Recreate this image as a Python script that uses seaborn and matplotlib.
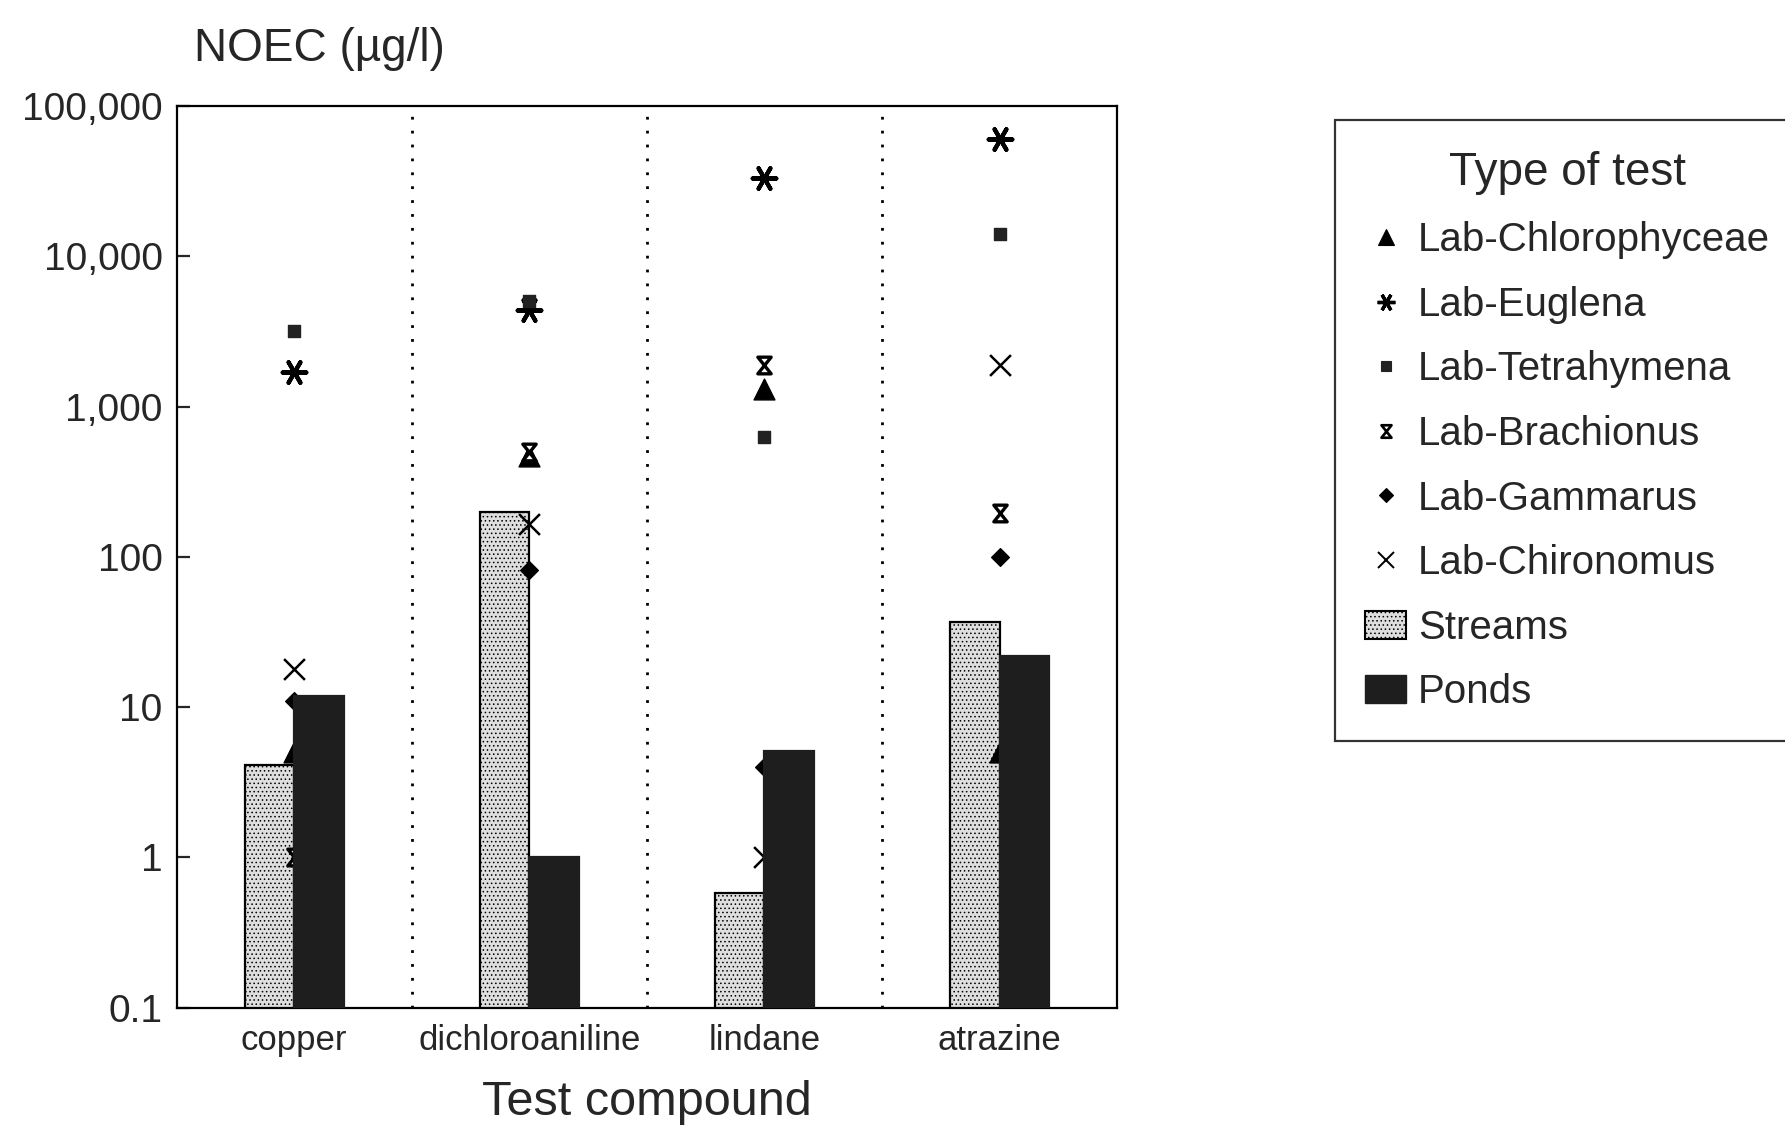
import numpy as np
import pandas as pd
import matplotlib
matplotlib.use("Agg")
import matplotlib.pyplot as plt
import seaborn as sns
from matplotlib.path import Path
from matplotlib.lines import Line2D
from matplotlib.patches import Patch
from matplotlib.ticker import NullLocator

# ---------------- data ----------------
compounds = ["copper", "dichloroaniline", "lindane", "atrazine"]
streams = [4.1, 198, 0.58, 37]
ponds = [11.8, 1.0, 5.1, 22]
lab_chlorophyceae = [5, 470, 1300, 5]
lab_euglena = [1700, 4400, 33000, 60000]
lab_tetrahymena = [3200, 5000, 630, 14000]
lab_brachionus = [1, 500, 1900, 195]
lab_gammarus = [11, 82, 4, 100]
lab_chironomus = [18, 165, 1, 1900]
y_ticks = [0.1, 1, 10, 100, 1000, 10000, 100000]
y_tick_labels = ["0.1", "1", "10", "100", "1,000", "10,000", "100,000"]

sns.set_style("ticks")
plt.rcParams["font.family"] = ["Liberation Sans", "DejaVu Sans"]
plt.rcParams["hatch.linewidth"] = 0.6

fig = plt.figure(figsize=(17.85, 11.36), dpi=100)
ax = fig.add_axes([0.0989, 0.113, 0.527, 0.7937])
ax.set_yscale("log")

bars = pd.DataFrame({
    "compound": compounds * 2,
    "value": streams + ponds,
    "type": ["Streams"] * len(compounds) + ["Ponds"] * len(compounds),
})
stream_color = "#dedede"
pond_color = "#1e1e1e"
sns.barplot(data=bars, x="compound", y="value", hue="type", order=compounds,
            hue_order=["Streams", "Ponds"],
            palette={"Streams": stream_color, "Ponds": pond_color},
            width=0.42, dodge=True, errorbar=None, legend=False,
            edgecolor="black", linewidth=1.6, ax=ax)
for p in ax.containers[0]:
    p.set_zorder(2)
    p.set_hatch("....")
for p in ax.containers[1]:
    p.set_zorder(4)
    p.set_edgecolor(pond_color)

hourglass = Path([(-0.8, 1), (0.8, 1), (-0.8, -1), (0.8, -1), (-0.8, 1)],
                 [Path.MOVETO, Path.LINETO, Path.LINETO, Path.LINETO, Path.CLOSEPOLY])
asterisk = (6, 2, 90)

species = [
    ("Lab-Chlorophyceae", lab_chlorophyceae, "^", 15, "black", "black", 1.0),
    ("Lab-Euglena", lab_euglena, asterisk, 17, "black", "black", 3.0),
    ("Lab-Tetrahymena", lab_tetrahymena, "s", 9, "#222222", "#222222", 1.0),
    ("Lab-Brachionus", lab_brachionus, hourglass, 12, "white", "black", 2.4),
    ("Lab-Gammarus", lab_gammarus, "D", 9, "black", "black", 1.0),
    ("Lab-Chironomus", lab_chironomus, "x", 15, "black", "black", 1.8),
]

for name, vals, mk, size, fc, ec, lw in species:
    d = pd.DataFrame({"compound": compounds, "value": vals})
    sns.stripplot(data=d, x="compound", y="value", order=compounds,
                  jitter=False, marker=mk, size=size, color=fc,
                  edgecolor=ec, linewidth=lw, zorder=3, ax=ax)

for xsep in [0.5, 1.5, 2.5]:
    ax.axvline(xsep, color="black", linestyle=(0, (1, 4)), linewidth=2.0, zorder=1)

ax.set_xlim(-0.5, 3.5)
ax.set_ylim(0.1, 100000)
ax.set_yticks(y_ticks)
ax.set_yticklabels(y_tick_labels)
ax.yaxis.set_minor_locator(NullLocator())
ax.tick_params(axis="y", direction="in", length=9, width=1.6, labelsize=28, pad=10)
ax.tick_params(axis="x", length=0, labelsize=25, pad=12)
for s in ax.spines.values():
    s.set_visible(True)
    s.set_linewidth(1.6)
    s.set_color("black")
ax.set_ylabel("")
ax.set_xlabel("Test compound", fontsize=35, labelpad=16)

fig.text(0.1087, 0.957, "NOEC (µg/l)", fontsize=33, ha="left", va="center")

handles = []
for name, vals, mk, size, fc, ec, lw in species:
    handles.append(Line2D([], [], linestyle="none", marker=mk,
                          markersize=size * 0.75, markerfacecolor=fc,
                          markeredgecolor=ec, markeredgewidth=lw * 0.8,
                          label=name))
handles.append(Patch(facecolor=stream_color, edgecolor="black", hatch="....",
                     linewidth=1.5, label="Streams"))
handles.append(Patch(facecolor=pond_color, edgecolor=pond_color, label="Ponds"))

leg = fig.legend(handles=handles, title="Type of test", loc="upper left",
                 bbox_to_anchor=(0.748, 0.894), bbox_transform=fig.transFigure,
                 fontsize=29, title_fontsize=33, frameon=True, fancybox=False,
                 edgecolor="black", labelspacing=0.66, handlelength=1.0,
                 handletextpad=0.3, borderpad=0.75, borderaxespad=0)
leg.get_frame().set_linewidth(1.6)

fig.savefig("out.png", dpi=100, facecolor="white")
